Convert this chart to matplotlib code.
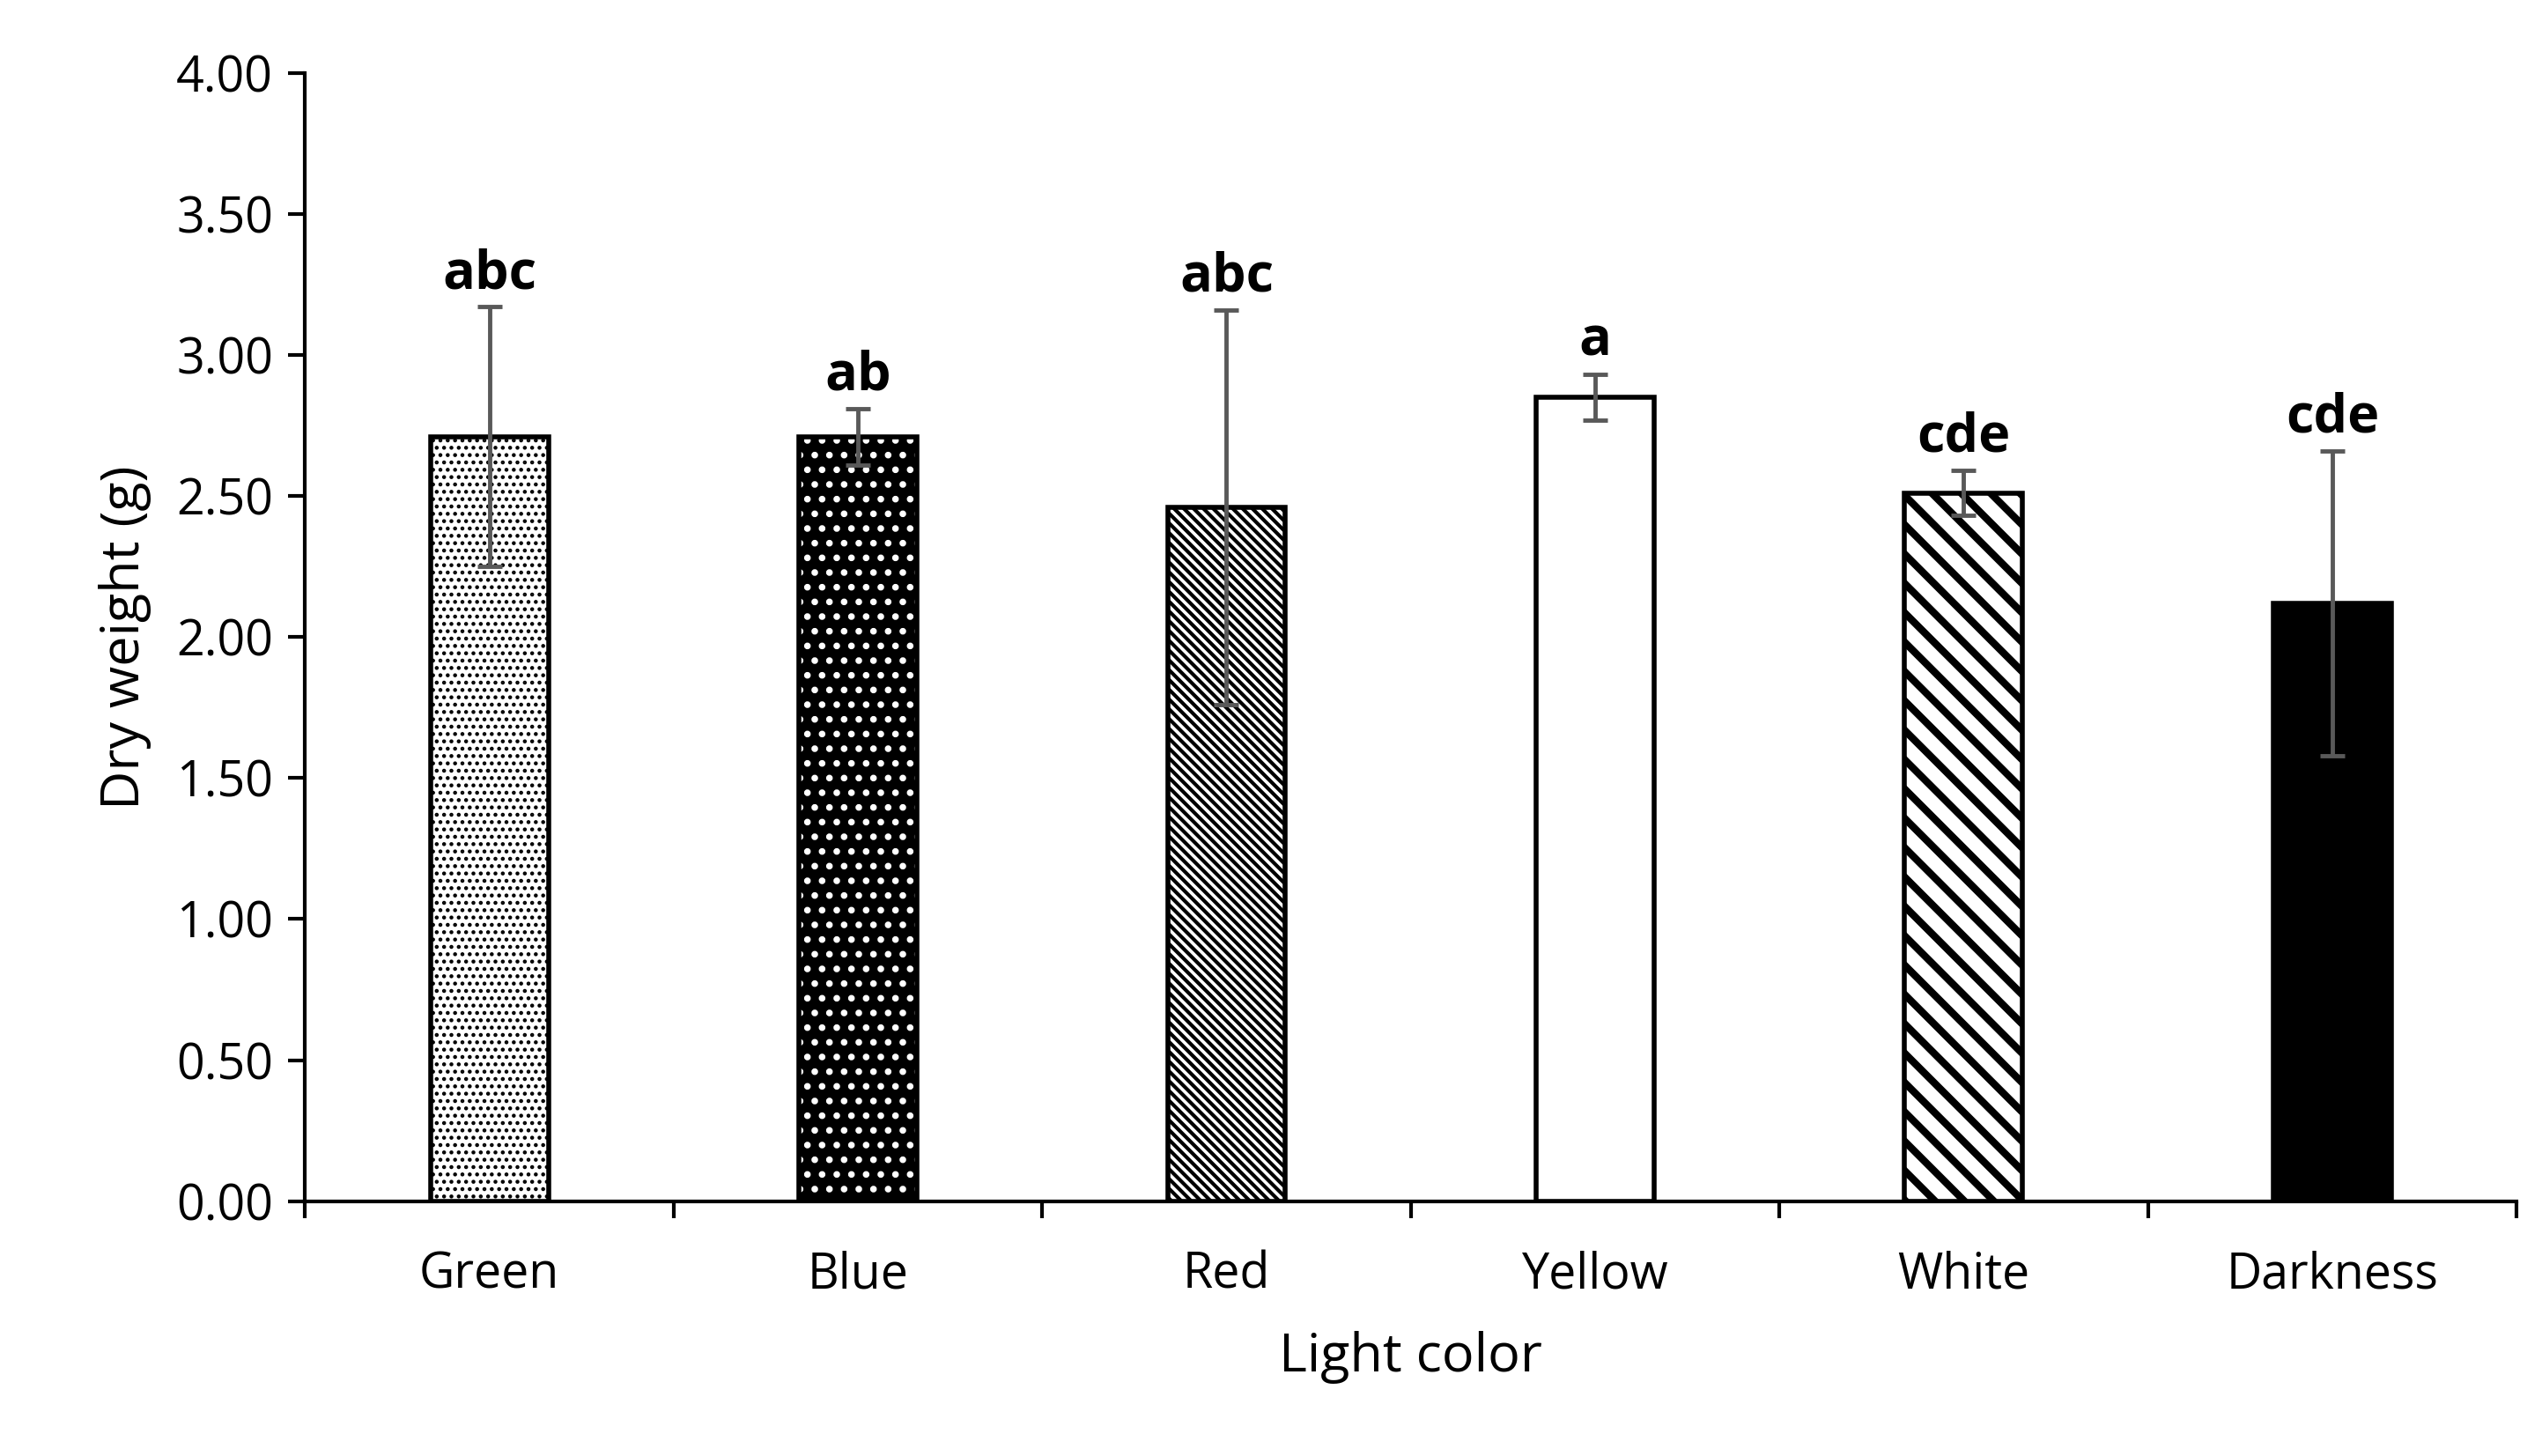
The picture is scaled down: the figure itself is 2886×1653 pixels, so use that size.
import matplotlib
matplotlib.use("Agg")
import matplotlib.pyplot as plt
import numpy as np

categories = ["Green", "Blue", "Red", "Yellow", "White", "Darkness"]
values = [2.71, 2.71, 2.46, 2.85, 2.51, 2.12]
errors = [0.46, 0.10, 0.70, 0.08, 0.08, 0.54]
letters = ["abc", "ab", "abc", "a", "cde", "cde"]

plt.rcParams['font.family'] = ['Open Sans', 'DejaVu Sans']

fig = plt.figure(figsize=(28.86, 16.53), dpi=100)
ax = fig.add_axes([0.12, 0.175, 0.87, 0.775])

x = np.arange(len(categories))
faces = ["white", "black", "white", "white", "white", "black"]
hatches = ["..", ".", "\\\\\\", "", "\\", ""]
hcolors = ["black", "white", "black", "black", "black", "black"]
hlw = [2.0, 3.0, 3.0, 1, 6.0, 1]
w = 0.32
for i in range(len(categories)):
    plt.rcParams['hatch.linewidth'] = hlw[i]
    ax.bar(x[i], values[i], w, color=faces[i], hatch=hatches[i],
           edgecolor=hcolors[i], linewidth=0, zorder=2)
    ax.bar(x[i], values[i], w, fill=False, edgecolor="black", linewidth=4, zorder=3)
ax.errorbar(x, values, yerr=errors, fmt="none", ecolor="#595959",
            elinewidth=3.5, capsize=10, capthick=3.5, zorder=4)
for i in range(len(categories)):
    ax.text(x[i], values[i] + errors[i] + 0.02, letters[i], ha="center", va="bottom",
            fontsize=44, fontweight="bold")

ax.set_xlim(-0.5, len(categories) - 0.5)
ax.set_ylim(0, 4.0)
ax.set_yticks(np.arange(0, 4.01, 0.5))
ax.set_yticklabels([f"{v:.2f}" for v in np.arange(0, 4.01, 0.5)])
ax.set_xticks(x)
ax.set_xticklabels(categories)
ax.set_xticks(np.arange(-0.5, len(categories), 1), minor=True)
ax.tick_params(axis="x", which="major", length=0, pad=40, labelsize=40)
ax.tick_params(axis="x", which="minor", length=14, width=3, direction="out")
ax.tick_params(axis="y", length=14, width=3, direction="out", labelsize=40, pad=12)
for s in ["top", "right"]:
    ax.spines[s].set_visible(False)
for s in ["left", "bottom"]:
    ax.spines[s].set_linewidth(3)
ax.set_xlabel("Light color", fontsize=44, labelpad=25)
ax.set_ylabel("Dry weight (g)", fontsize=44, labelpad=20)

fig.savefig("out.png", dpi=100, facecolor="white")
